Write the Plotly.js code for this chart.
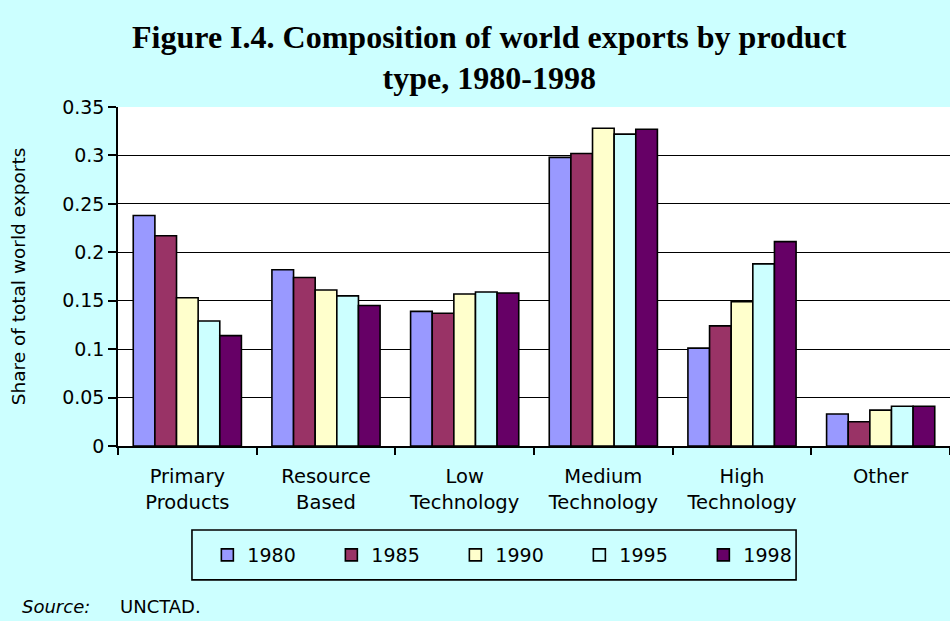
<!DOCTYPE html>
<html>
<head>
<meta charset="utf-8">
<script src="https://cdn.plot.ly/plotly-3.0.1.min.js"></script>
<style>
  html, body { margin: 0; padding: 0; background: #ccffff; }
  #chart { width: 950px; height: 621px; }
</style>
</head>
<body>
<div id="chart"></div>
<script>
const categories = ['Primary<br>Products', 'Resource<br>Based', 'Low<br>Technology', 'Medium<br>Technology', 'High<br>Technology', 'Other'];
const years = ['1980', '1985', '1990', '1995', '1998'];
const colors = ['#9999ff', '#993366', '#ffffcc', '#ccffff', '#660066'];

const values1980 = [0.238, 0.182, 0.139, 0.298, 0.101, 0.033];
const values1985 = [0.217, 0.174, 0.137, 0.302, 0.124, 0.025];
const values1990 = [0.153, 0.161, 0.157, 0.328, 0.149, 0.037];
const values1995 = [0.129, 0.155, 0.159, 0.322, 0.188, 0.041];
const values1998 = [0.114, 0.145, 0.158, 0.327, 0.211, 0.041];

const series = [values1980, values1985, values1990, values1995, values1998];

const sans = 'DejaVu Sans, Verdana, sans-serif';
const axisFont = { family: sans, size: 19, color: '#000' };

const traces = series.map((vals, i) => ({
    x: categories,
    y: vals,
    type: 'bar',
    name: years[i],
    marker: { color: colors[i], line: { color: '#000', width: 1.6 } },
    hoverinfo: 'y'
}));

// legend frame drawn as a shape so its size can match the original box
const layout = {
    width: 950,
    height: 621,
    paper_bgcolor: '#ccffff',
    plot_bgcolor: '#ffffff',
    margin: { l: 118, r: 0, t: 107, b: 175 },
    barmode: 'group',
    bargap: 0.22,
    bargroupgap: 0,
    title: {
        text: '<b>Figure I.4. Composition of world exports by product<br>type, 1980-1998</b>',
        font: { family: 'Liberation Serif, Times New Roman, serif', size: 32, color: '#000' },
        xref: 'container',
        yref: 'container',
        x: 0.515,
        xanchor: 'center',
        y: 0.923,
        yanchor: 'top'
    },
    xaxis: {
        tickfont: { family: sans, size: 19.5, color: '#000' },
        showline: true,
        linecolor: '#000',
        linewidth: 1.5,
        ticks: 'outside',
        tickson: 'boundaries',
        ticklen: 7,
        tickcolor: '#000',
        tickwidth: 1.5,
        ticklabelstandoff: 12,
        showgrid: false,
        automargin: false
    },
    yaxis: {
        title: { text: 'Share of total world exports', font: { family: sans, size: 18.5, color: '#000' }, standoff: 32 },
        range: [0, 0.35],
        dtick: 0.05,
        tickfont: axisFont,
        showline: true,
        linecolor: '#000',
        linewidth: 1.5,
        ticks: 'outside',
        ticklen: 8,
        tickcolor: '#000',
        tickwidth: 1.5,
        gridcolor: '#000',
        gridwidth: 1.3,
        zeroline: false,
        automargin: false
    },
    showlegend: true,
    legend: {
        orientation: 'h',
        x: 0.48, xanchor: 'center', xref: 'paper',
        y: -0.3215, yanchor: 'middle',
        bgcolor: 'rgba(0,0,0,0)',
        borderwidth: 0,
        font: axisFont,
        entrywidth: 79,
        entrywidthmode: 'pixels'
    },
    shapes: [
        { type: 'rect', xref: 'paper', yref: 'paper', x0: 0.0889, x1: 0.815, y0: -0.395, y1: -0.248, line: { color: '#000', width: 1.6 }, fillcolor: 'rgba(0,0,0,0)' }
    ],
    annotations: [
        { text: '<i>Source:</i>', xref: 'paper', yref: 'paper', x: -0.1178, xanchor: 'left', y: -0.472, yanchor: 'middle', showarrow: false, font: { family: sans, size: 18, color: '#000' } },
        { text: 'UNCTAD.', xref: 'paper', yref: 'paper', x: 0, xanchor: 'left', y: -0.472, yanchor: 'middle', showarrow: false, font: { family: sans, size: 18, color: '#000' } }
    ]
};

Plotly.newPlot('chart', traces, layout, { displayModeBar: false });
</script>
</body>
</html>
